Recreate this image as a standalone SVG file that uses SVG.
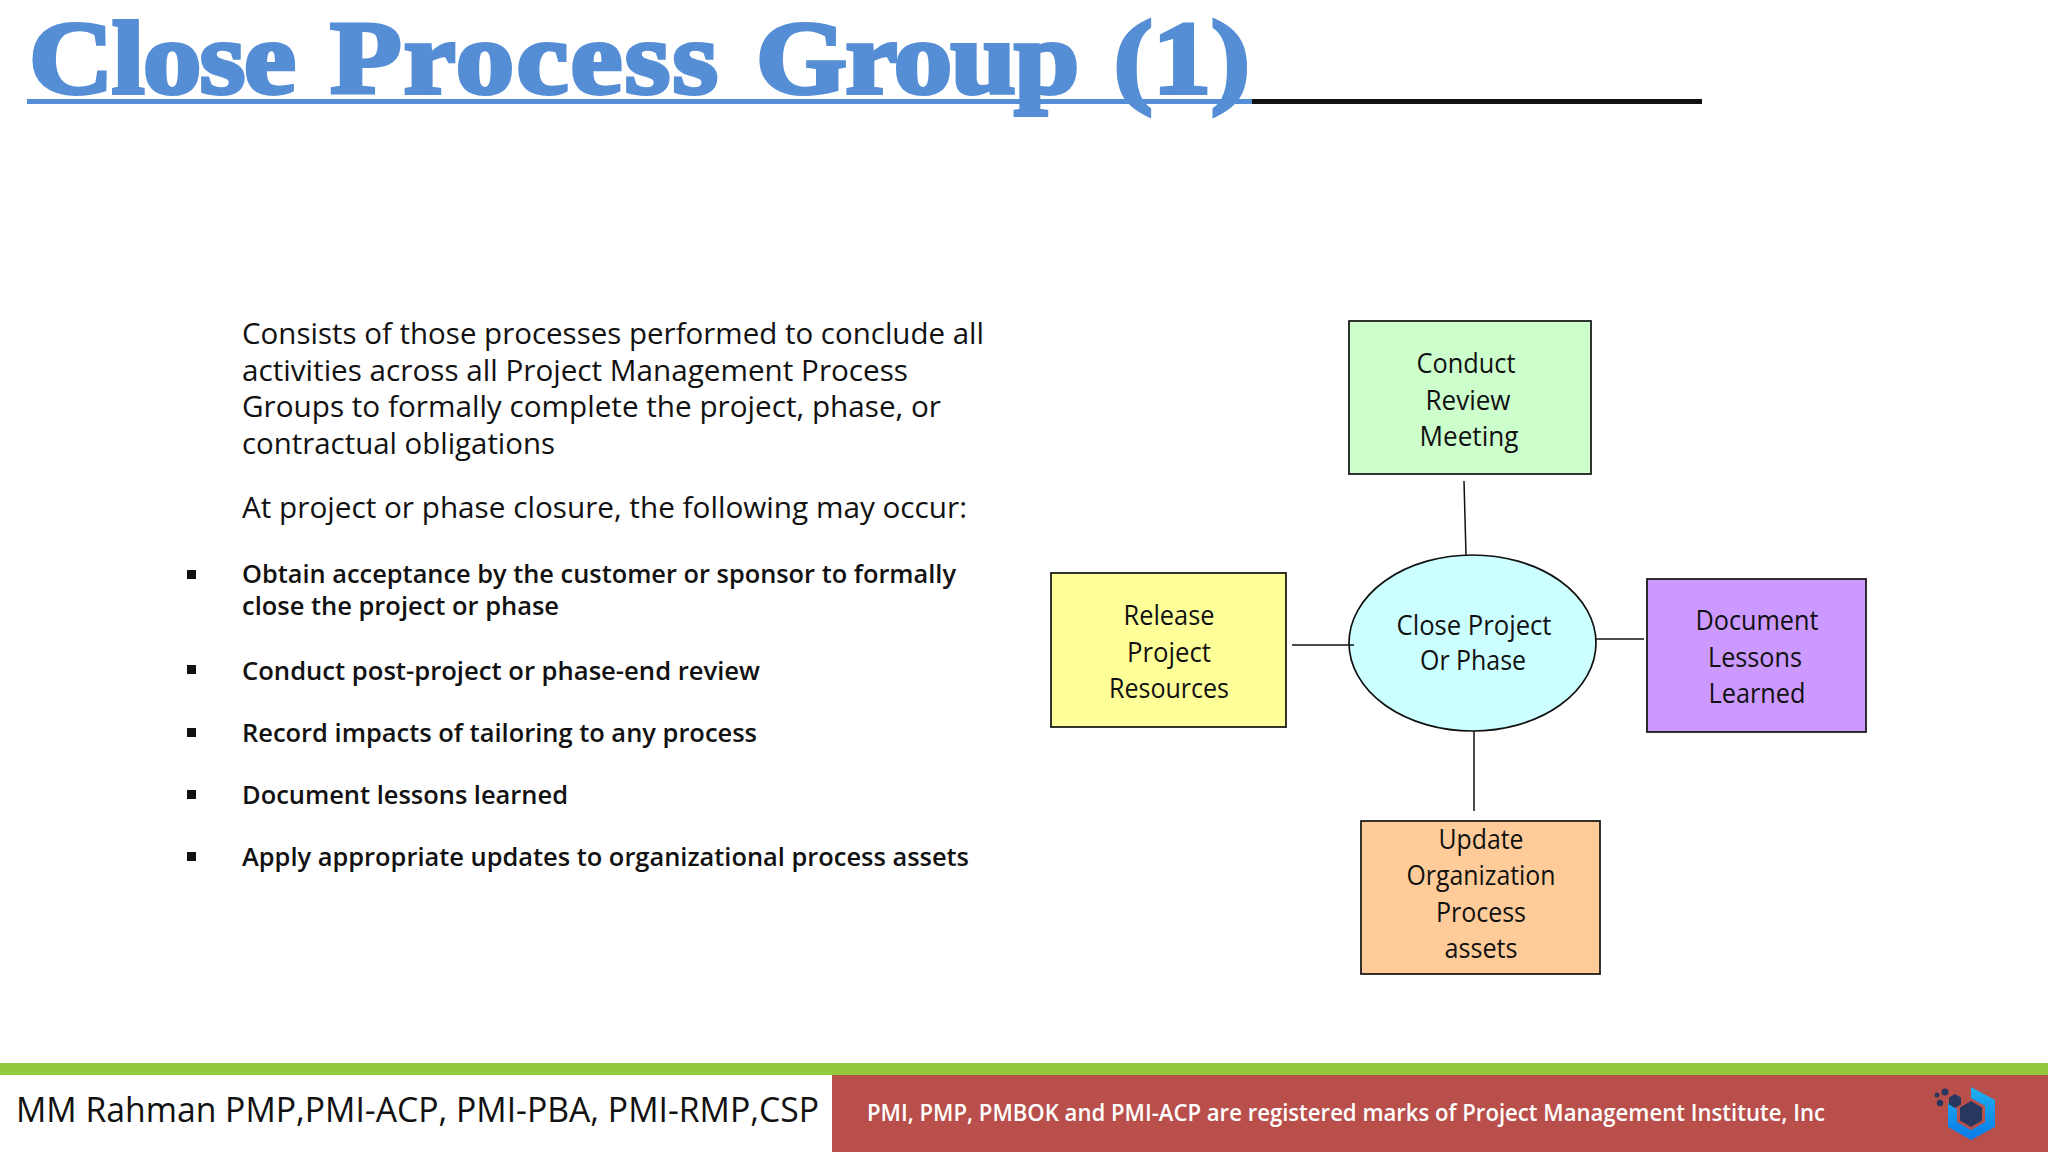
<svg xmlns="http://www.w3.org/2000/svg" width="2048" height="1152" viewBox="0 0 2048 1152">
<style>
text{font-family:"Open Sans","Noto Sans",sans-serif;fill:#111}
.title{font-family:"Liberation Serif",serif;font-weight:700;font-size:104px;fill:#558ed5;stroke:#558ed5;stroke-width:4px}
.body{font-size:29px}
.bold{font-size:26px;font-weight:600}
.lab{font-size:27px;text-anchor:middle}
.box{stroke:#111;stroke-width:1.7}
.con{stroke:#111;stroke-width:1.5;fill:none}
</style>
<rect width="2048" height="1152" fill="#fff"/>
<g id="title">
<text class="title" x="29" y="93" textLength="1221" lengthAdjust="spacingAndGlyphs" word-spacing="6"><tspan letter-spacing="-1.3">Close</tspan> <tspan letter-spacing="2">Process</tspan> <tspan letter-spacing="-1.3">Group</tspan> (1)</text>
<rect x="1251" y="99" width="451" height="5" fill="#111"/>
<rect x="27" y="99" width="1225" height="5" fill="#558ed5"/>
</g>
<g id="intro">
<text class="body" x="242" y="344" textLength="742" lengthAdjust="spacingAndGlyphs">Consists of those processes performed to conclude all</text>
<text class="body" x="242" y="380.700" textLength="666" lengthAdjust="spacingAndGlyphs">activities across all Project Management Process</text>
<text class="body" x="242" y="417.300" textLength="699" lengthAdjust="spacingAndGlyphs">Groups to formally complete the project, phase, or</text>
<text class="body" x="242" y="454" textLength="313" lengthAdjust="spacingAndGlyphs">contractual obligations</text>
<text class="body" x="242" y="518" textLength="725" lengthAdjust="spacingAndGlyphs">At project or phase closure, the following may occur:</text>
</g>
<g id="bullets" fill="#111">
<rect x="187" y="570" width="9" height="9"/>
<rect x="187" y="665" width="9" height="9"/>
<rect x="187" y="728" width="9" height="9"/>
<rect x="187" y="790" width="9" height="9"/>
<rect x="187" y="852" width="9" height="9"/>
<text class="bold" x="242" y="583" textLength="714" lengthAdjust="spacingAndGlyphs">Obtain acceptance by the customer or sponsor to formally</text>
<text class="bold" x="242" y="615" textLength="317" lengthAdjust="spacingAndGlyphs">close the project or phase</text>
<text class="bold" x="242" y="680" textLength="518" lengthAdjust="spacingAndGlyphs">Conduct post-project or phase-end review</text>
<text class="bold" x="242" y="742" textLength="515" lengthAdjust="spacingAndGlyphs">Record impacts of tailoring to any process</text>
<text class="bold" x="242" y="804" textLength="326" lengthAdjust="spacingAndGlyphs">Document lessons learned</text>
<text class="bold" x="242" y="866" textLength="727" lengthAdjust="spacingAndGlyphs">Apply appropriate updates to organizational process assets</text>
</g>
<g id="node-conduct">
<rect class="box" x="1349" y="321" width="242" height="153" fill="#ccffcc"/>
<text class="lab" x="1466" y="373" textLength="99" lengthAdjust="spacingAndGlyphs">Conduct</text>
<text class="lab" x="1468" y="409.500" textLength="85" lengthAdjust="spacingAndGlyphs">Review</text>
<text class="lab" x="1469" y="446" textLength="99" lengthAdjust="spacingAndGlyphs">Meeting</text>
</g>
<g id="node-release">
<rect class="box" x="1051" y="573" width="235" height="154" fill="#ffff99"/>
<text class="lab" x="1169" y="625" textLength="91" lengthAdjust="spacingAndGlyphs">Release</text>
<text class="lab" x="1169" y="661.500" textLength="84" lengthAdjust="spacingAndGlyphs">Project</text>
<text class="lab" x="1169" y="698" textLength="120" lengthAdjust="spacingAndGlyphs">Resources</text>
</g>
<g id="node-close">
<ellipse class="box" cx="1472.5" cy="643" rx="123.5" ry="88" fill="#ccffff"/>
<text class="lab" x="1474" y="635" textLength="155" lengthAdjust="spacingAndGlyphs">Close Project</text>
<text class="lab" x="1473" y="670" textLength="106" lengthAdjust="spacingAndGlyphs">Or Phase</text>
</g>
<g id="node-document">
<rect class="box" x="1647" y="579" width="219" height="153" fill="#cc99ff"/>
<text class="lab" x="1757" y="630" textLength="123" lengthAdjust="spacingAndGlyphs">Document</text>
<text class="lab" x="1755" y="666.500" textLength="94" lengthAdjust="spacingAndGlyphs">Lessons</text>
<text class="lab" x="1757" y="703" textLength="97" lengthAdjust="spacingAndGlyphs">Learned</text>
</g>
<g id="node-update">
<rect class="box" x="1361" y="821" width="239" height="153" fill="#ffcc99"/>
<text class="lab" x="1481" y="849" textLength="85" lengthAdjust="spacingAndGlyphs">Update</text>
<text class="lab" x="1481" y="885" textLength="149" lengthAdjust="spacingAndGlyphs">Organization</text>
<text class="lab" x="1481" y="922" textLength="90" lengthAdjust="spacingAndGlyphs">Process</text>
<text class="lab" x="1481" y="958" textLength="73" lengthAdjust="spacingAndGlyphs">assets</text>
</g>
<g id="connectors">
<line class="con" x1="1464" y1="481" x2="1466" y2="555"/>
<line class="con" x1="1292" y1="645" x2="1354" y2="645"/>
<line class="con" x1="1596" y1="639" x2="1644" y2="639"/>
<line class="con" x1="1474" y1="731" x2="1474" y2="811"/>
</g>
<g id="footer">
<rect x="0" y="1063" width="2048" height="12" fill="#95c93d"/>
<rect x="832" y="1075" width="1216" height="77" fill="#b94f4b"/>
<text x="16" y="1122" font-size="35" textLength="803" lengthAdjust="spacingAndGlyphs">MM Rahman PMP,PMI-ACP, PMI-PBA, PMI-RMP,CSP</text>
<text x="867" y="1121" font-size="23" font-weight="600" style="fill:#fff" textLength="958" lengthAdjust="spacingAndGlyphs">PMI, PMP, PMBOK and PMI-ACP are registered marks of Project Management Institute, Inc</text>
</g>
<g id="logo">
<defs><linearGradient id="lg" x1="0" y1="0" x2="0" y2="1"><stop offset="0" stop-color="#1fb0ee"/><stop offset="1" stop-color="#0a7ae8"/></linearGradient></defs>
<polygon points="1971,1087 1995,1100 1995,1127 1971,1140 1948,1127 1948,1103 1955,1103 1955,1109 1971,1100" fill="url(#lg)"/>
<polygon points="1971,1098 1985,1106 1985,1122 1971,1130 1957,1122 1957,1106" fill="#b94f4b"/>
<polygon points="1971,1101 1982,1107.500 1982,1120.500 1971,1127 1960,1120.500 1960,1107.500" fill="#27375f"/>
<polygon points="1955,1094 1961,1097.500 1961,1104.500 1955,1108 1949,1104.500 1949,1097.500" fill="#27375f"/>
<circle cx="1945" cy="1092" r="3.500" fill="#27375f"/>
<circle cx="1937" cy="1095" r="2.500" fill="#27375f"/>
<circle cx="1940" cy="1103" r="3.200" fill="#27375f"/>
</g>
</svg>
